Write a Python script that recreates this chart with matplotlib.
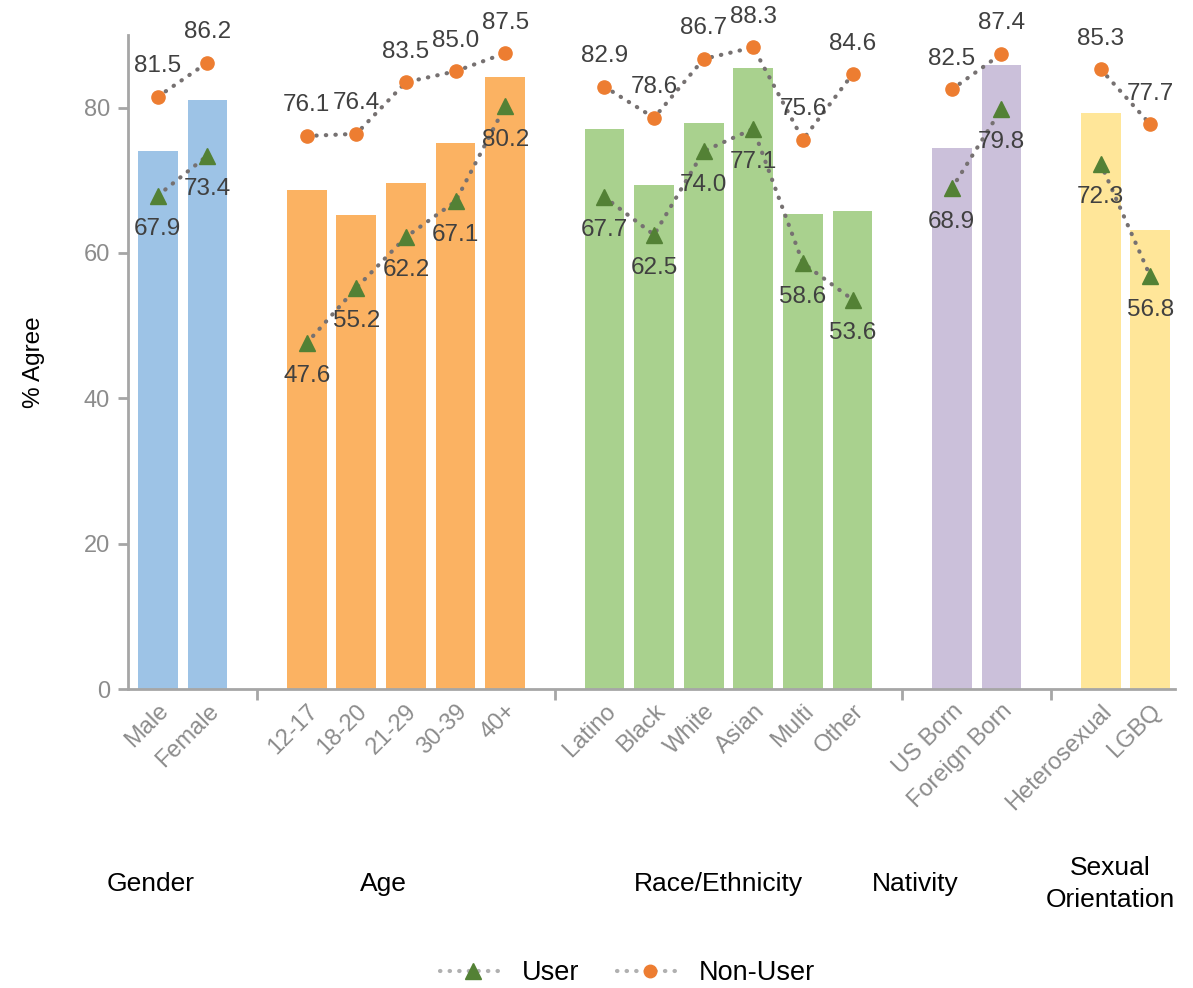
import numpy as np
import matplotlib
matplotlib.use("Agg")
import matplotlib.pyplot as plt
from matplotlib.lines import Line2D

plt.rcParams['font.family'] = ['Liberation Sans', 'DejaVu Sans']

# data
groups = ["Gender", "Age", "Race/Ethnicity", "Nativity", "Sexual\nOrientation"]
group_sizes = [2, 5, 6, 2, 2]
categories = ["Male", "Female",
              "12-17", "18-20", "21-29", "30-39", "40+",
              "Latino", "Black", "White", "Asian", "Multi", "Other",
              "US Born", "Foreign Born",
              "Heterosexual", "LGBQ"]
overall = [74.0, 81.1,
           68.7, 65.2, 69.6, 75.1, 84.2,
           77.0, 69.3, 77.9, 85.4, 65.3, 65.8,
           74.4, 85.9,
           79.2, 63.2]
user = [67.9, 73.4,
        47.6, 55.2, 62.2, 67.1, 80.2,
        67.7, 62.5, 74.0, 77.1, 58.6, 53.6,
        68.9, 79.8,
        72.3, 56.8]
non_user = [81.5, 86.2,
            76.1, 76.4, 83.5, 85.0, 87.5,
            82.9, 78.6, 86.7, 88.3, 75.6, 84.6,
            82.5, 87.4,
            85.3, 77.7]
group_colors = ["#9DC3E6", "#FBB262", "#A9D18E", "#CBC0DA", "#FFE699"]
group_label_x = [-0.14, 4.54, 11.29, 15.26, 19.2]

line_col = "#767171"
user_col = "#538135"
non_col = "#ED7D31"
grey = "#8C8C8C"
dots = (0, (0.1, 2.2))

fig = plt.figure(figsize=(11.93, 9.88), dpi=100)
ax = fig.add_axes([0.1073, 0.3026, 0.8777, 0.662])

# slot positions: one empty slot between groups
pos = []
seps = []
start = 0
for n in group_sizes:
    pos.append(np.arange(start, start + n))
    start += n + 1
    seps.append(start - 1)
seps = seps[:-1]

i = 0
for g, n in enumerate(group_sizes):
    x = pos[g]
    sl = slice(i, i + n)
    ax.bar(x, overall[sl], width=0.8, color=group_colors[g], zorder=1)
    ax.plot(x, user[sl], linestyle=dots, dash_capstyle='round', lw=3,
            color=line_col, marker='^', ms=11, mfc=user_col, mec=user_col, zorder=3)
    ax.plot(x, non_user[sl], linestyle=dots, dash_capstyle='round', lw=3,
            color=line_col, marker='o', ms=9.5, mfc=non_col, mec=non_col, zorder=3)
    for xi, u, nu in zip(x, user[sl], non_user[sl]):
        ax.annotate(f"{u:.1f}", (xi, u), xytext=(0, -24), textcoords='offset points',
                    ha='center', va='center', fontsize=17.5, color="#404040", zorder=4)
        ax.annotate(f"{nu:.1f}", (xi, nu), xytext=(0, 22), textcoords='offset points',
                    ha='center', va='center', fontsize=17.5, color="#404040", zorder=4)
    ax.text(group_label_x[g], -0.298, groups[g], transform=ax.get_xaxis_transform(),
            ha='center', va='center', fontsize=19, color='black', linespacing=1.4)
    i += n

allpos = np.concatenate(pos)
ax.set_xlim(-0.6, 20.5)
ax.set_ylim(0, 90)
ax.set_xticks(allpos)
ax.set_xticklabels(categories, rotation=45, ha='right', va='top',
                   rotation_mode='anchor', fontsize=17, color=grey)
ax.tick_params(axis='x', length=0, pad=8)
ax.set_xticks(seps, minor=True)
ax.tick_params(axis='x', which='minor', length=8, width=2, color="#A6A6A6")
ax.set_yticks([0, 20, 40, 60, 80])
ax.tick_params(axis='y', length=7, width=2, color="#A6A6A6", labelsize=17,
               labelcolor=grey, pad=6)
ax.set_ylabel("% Agree", fontsize=17.5, labelpad=28)

for s in ['top', 'right']:
    ax.spines[s].set_visible(False)
for s in ['left', 'bottom']:
    ax.spines[s].set_color("#A6A6A6")
    ax.spines[s].set_linewidth(2)

handles = [
    Line2D([], [], linestyle=dots, dash_capstyle='round', lw=3, color="#B0B0B0",
           marker='^', ms=12, mfc=user_col, mec=user_col),
    Line2D([], [], linestyle=dots, dash_capstyle='round', lw=3, color="#B0B0B0",
           marker='o', ms=9, mfc=non_col, mec=non_col),
]
fig.legend(handles, ["User", "Non-User"], loc='center', bbox_to_anchor=(0.526, 0.015),
           ncol=2, frameon=False, fontsize=19.5, handlelength=2.4,
           handletextpad=0.6, columnspacing=1.4)

fig.savefig("out.png", dpi=100)
